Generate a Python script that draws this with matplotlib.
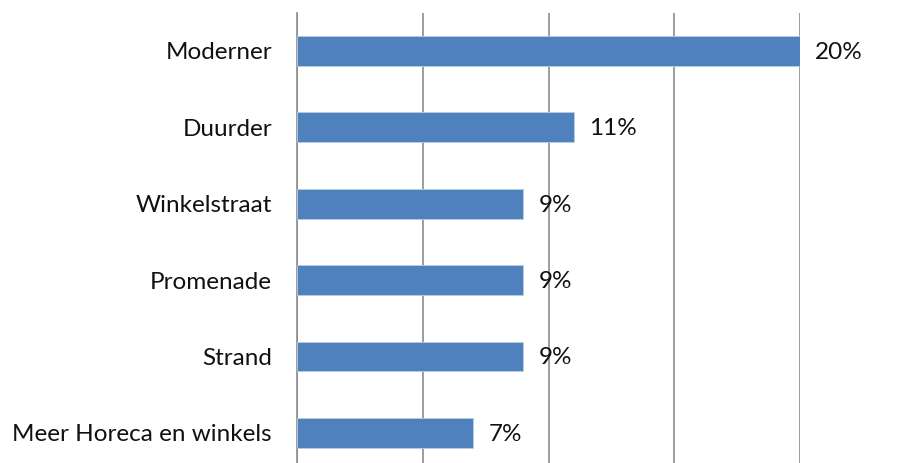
import matplotlib.pyplot as plt

categories = ['Moderner', 'Duurder', 'Winkelstraat', 'Promenade', 'Strand', 'Meer Horeca en winkels']
values = [20, 11, 9, 9, 9, 7]
labels = ['20%', '11%', '9%', '9%', '9%', '7%']

plt.rcParams['font.family'] = ['Lato', 'DejaVu Sans']

fig = plt.figure(figsize=(9.13, 4.63), dpi=100)
ax = fig.add_axes([297 / 913, -0.0177, (800 - 297) / 913, 0.9724 + 0.0177])

y = range(len(categories))
ax.barh(y, values, height=0.39, color='#4F81BD', edgecolor='#B9CDE5', linewidth=0.6, zorder=3)
for yi, v, lab in zip(y, values, labels):
    ax.annotate(lab, (v, yi), xytext=(11, -1), textcoords='offset points',
                va='center', ha='left', fontsize=17.5, color='#111111', annotation_clip=False)

ax.set_xlim(0, 20)
ax.set_ylim(len(categories) - 0.5, -0.5)
ax.set_xticks([0, 5, 10, 15, 20])
ax.set_xticklabels([])
ax.set_yticks(list(y))
ax.set_yticklabels(categories, fontsize=17.5, color='#111111')
ax.tick_params(axis='y', length=0, pad=18)
ax.tick_params(axis='x', length=0)
ax.grid(axis='x', color='#8C8C8C', linewidth=1.2, zorder=0)
for s in ['top', 'right', 'bottom']:
    ax.spines[s].set_visible(False)
ax.spines['left'].set_color('#8C8C8C')
ax.spines['left'].set_linewidth(1.2)

fig.savefig('out.png', dpi=100)
